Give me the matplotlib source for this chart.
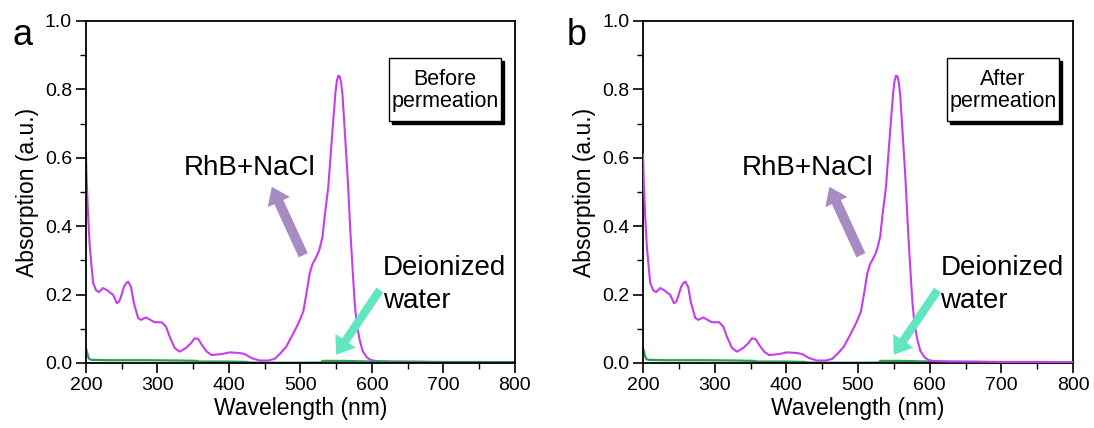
import numpy as np
import matplotlib.pyplot as plt
from matplotlib.patches import Rectangle

plt.rcParams['font.family'] = ['Liberation Sans', 'DejaVu Sans']

# RhB + NaCl absorption spectrum (nm, a.u.)
rhb_wl = [200, 201, 203, 205, 207, 210, 214, 218, 224, 230, 234, 238, 243,
          246, 249, 253, 256, 259, 263, 267, 273, 277, 284, 290, 296, 306,
          312, 317, 324, 331, 340, 347, 352, 357, 362, 369, 376, 390, 401,
          415, 422, 432, 443, 455, 464, 471, 480, 489, 497, 504, 509, 513,
          517, 520, 524, 527, 531, 534, 537, 539, 542, 544, 546, 549, 551,
          553, 555, 557, 559, 562, 565, 567, 570, 572, 574, 576, 579, 583,
          587, 593, 598, 604, 612, 630, 660, 700, 750, 800]
rhb_abs = [0.61, 0.53, 0.43, 0.35, 0.30, 0.234, 0.213, 0.207, 0.219, 0.212,
           0.205, 0.199, 0.175, 0.178, 0.194, 0.222, 0.233, 0.238, 0.222,
           0.175, 0.131, 0.126, 0.133, 0.126, 0.119, 0.119, 0.106, 0.077,
           0.044, 0.033, 0.044, 0.058, 0.072, 0.070, 0.053, 0.033, 0.023,
           0.026, 0.031, 0.029, 0.026, 0.014, 0.007, 0.007, 0.012, 0.026,
           0.047, 0.082, 0.115, 0.150, 0.210, 0.262, 0.290, 0.301, 0.318,
           0.335, 0.370, 0.430, 0.480, 0.515, 0.600, 0.655, 0.710, 0.790,
           0.825, 0.840, 0.838, 0.820, 0.780, 0.680, 0.580, 0.506, 0.380,
           0.311, 0.240, 0.175, 0.110, 0.067, 0.035, 0.016, 0.009, 0.006,
           0.005, 0.004, 0.004, 0.003, 0.003, 0.002]

# deionized water baseline
dw_wl = [200, 201, 203, 205, 208, 230, 280, 330, 356, 358, 400, 425, 430,
         480, 529, 531, 560, 600, 650, 700, 800]
dw_abs = [0.042, 0.035, 0.018, 0.011, 0.009, 0.008, 0.008, 0.007, 0.006,
          0.004, 0.004, 0.003, 0.001, 0.0005, 0.001, 0.006, 0.006, 0.004,
          0.003, 0.002, 0.002]

panels = ['a', 'b']
box_text = ['Before\npermeation', 'After\npermeation']
dye_on_top = [False, True]

fig = plt.figure(figsize=(10.94, 4.28), dpi=100)
axes = [fig.add_axes([0.0786, 0.152, 0.392, 0.799]),
        fig.add_axes([0.5878, 0.152, 0.393, 0.799])]

for i, ax in enumerate(axes):
    z_dye = 3 if dye_on_top[i] else 2
    ax.plot(rhb_wl, rhb_abs, color='#C63CF0', lw=1.5, zorder=z_dye)
    ax.plot(dw_wl, dw_abs, color='#2E9A5C', lw=1.6, zorder=2.5)

    ax.set_xlim(200, 800)
    ax.set_ylim(0, 1.0)
    ax.set_xticks(np.arange(200, 801, 100))
    ax.set_yticks(np.arange(0, 1.01, 0.2))
    ax.set_xticks(np.arange(250, 800, 100), minor=True)
    ax.set_yticks(np.arange(0.1, 1.0, 0.2), minor=True)
    ax.yaxis.set_major_formatter(plt.FormatStrFormatter('%.1f'))
    ax.tick_params(which='major', direction='out', length=7, width=1.2,
                   labelsize=14, pad=3)
    ax.tick_params(which='minor', direction='out', length=4, width=1.0)
    for sp in ax.spines.values():
        sp.set_linewidth(1.3)

    ax.set_xlabel('Wavelength (nm)', fontsize=16.5, labelpad=2)
    ax.set_ylabel('Absorption (a.u.)', fontsize=16.5, labelpad=4)

    # annotation arrows
    ax.annotate('', xy=(460, 0.515), xytext=(504, 0.315),
                arrowprops=dict(arrowstyle='simple,head_length=1.1,head_width=1.6,tail_width=0.65',
                                mutation_scale=11, color='#A88BC2', lw=0,
                                shrinkA=0, shrinkB=0))
    ax.annotate('', xy=(550, 0.024), xytext=(611, 0.213),
                arrowprops=dict(arrowstyle='simple,head_length=1.1,head_width=1.6,tail_width=0.55',
                                mutation_scale=11, color='#62E6C2', lw=0,
                                shrinkA=0, shrinkB=0))

    ax.text(429, 0.55, 'RhB+NaCl', fontsize=20, ha='center', va='baseline')
    ax.text(615, 0.229, 'Deionized\nwater', fontsize=20, ha='left',
            va='center', linespacing=1.35)

    # boxed condition label with drop shadow
    ax.add_patch(Rectangle((0.714, 0.698), 0.261, 0.184, transform=ax.transAxes,
                           facecolor='black', edgecolor='black', zorder=4))
    ax.add_patch(Rectangle((0.706, 0.708), 0.261, 0.184, transform=ax.transAxes,
                           facecolor='white', edgecolor='black', lw=1.0, zorder=5))
    ax.text(0.8365, 0.797, box_text[i], transform=ax.transAxes, fontsize=15.5,
            ha='center', va='center', linespacing=1.1, zorder=6)

fig.text(0.011, 0.895, panels[0], fontsize=26)
fig.text(0.518, 0.895, panels[1], fontsize=26)

fig.savefig('out.png', dpi=100)
